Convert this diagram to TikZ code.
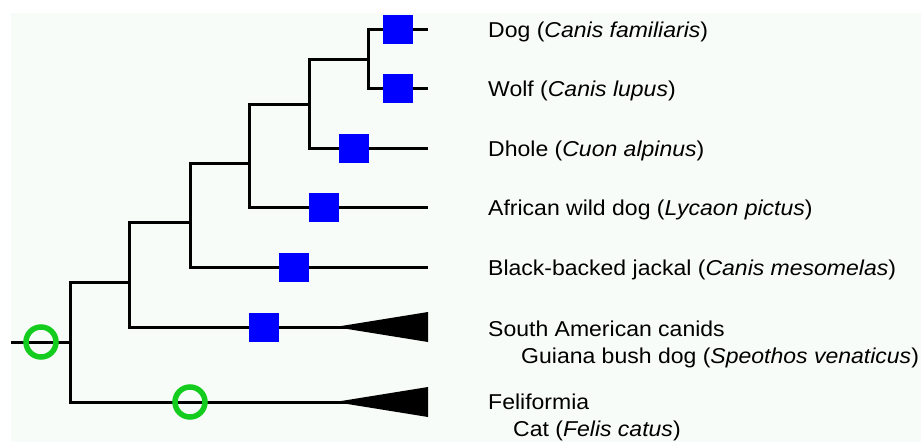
\documentclass[tikz,border=0pt]{standalone}
\usepackage{fontspec}
\setmainfont[FakeStretch=1.07]{Liberation Sans}
\definecolor{paper}{RGB}{248,252,248}
\definecolor{lossgreen}{RGB}{20,204,30}
\definecolor{gainblue}{RGB}{0,0,255}
\tikzset{
  branch/.style={line width=3pt, line join=miter},
  gain/.style={fill=gainblue, inner sep=0pt, minimum width=30pt, minimum height=29pt},
  loss/.style={circle, draw=lossgreen, line width=5.5pt, inner sep=0pt, minimum size=30pt},
  taxon/.style={anchor=base west, inner sep=0pt, font=\fontsize{21.5}{26}\selectfont}
}
\begin{document}
\begin{tikzpicture}[x=1pt,y=-1pt]
			\useasboundingbox (0,0) rectangle (921,442);
			\fill[paper] (11,13) rectangle (921,442);

			% Blaetter
			\coordinate (dog) at (428,29);
			\coordinate (wolf) at (428,88);
			\coordinate (dhole) at (428,148);
			\coordinate (lycaon) at (428,207);
			\coordinate (jackal) at (428,267);
			\coordinate (samer) at (428,327);
			\coordinate (felif) at (428,402);

			% Innere Knoten
			\coordinate (k1) at (368,59);
			\coordinate (k2) at (309,104);
			\coordinate (k3) at (249,163);
			\coordinate (k4) at (190,222);
			\coordinate (k5) at (129,282);
			\coordinate (k6) at (70,342);
			\coordinate (root) at (11,342);

			% Aeste
			\draw[branch] (dog) -| (k1) |- (wolf);
			\draw[branch] (k1) -| (k2) |- (dhole);
			\draw[branch] (k2) -| (k3) |- (lycaon);
			\draw[branch] (k3) -| (k4) |- (jackal);
			\draw[branch] (k4) -| (k5) |- (samer);
			\draw[branch] (k5) -| (k6) |- (felif);
			\draw[branch] (root) -- (k6);

			% Sammelgruppen
			\fill (samer) ++(-93,0) coordinate (samtip) -- ++(93,-15) -- ++(0,30) -- cycle;
			\fill (felif) ++(-93,0) coordinate (felitip) -- ++(93,-15) -- ++(0,30) -- cycle;

			% Quadrate
			\node[gain] (qdog) at (398,29) {};
			\node[gain] (qwolf) at (398,88) {};
			\node[gain] (qdhole) at (354,148) {};
			\node[gain] (qlycaon) at (324,207) {};
			\node[gain] (qjackal) at (294,267) {};
			\node[gain] (qsamer) at (264,327) {};

			% Kreise
			\node[loss] (croot) at (41,342) {};
			\node[loss] (cfelif) at (190,402) {};

			% Namen
			\node[taxon] (tdog) at (488,37) {Dog (\textit{Canis familiaris})};
			\node[taxon] (twolf) at (488,96) {Wolf (\textit{Canis lupus})};
			\node[taxon] (tdhole) at (488,156) {Dhole (\textit{Cuon alpinus})};
			\node[taxon] (tlycaon) at (488,215) {African wild dog (\textit{Lycaon pictus})};
			\node[taxon] (tjackal) at (488,275) {Black-backed jackal (\textit{Canis mesomelas})};
			\node[taxon] (tsamer) at (488,336) {South American canids};
			\node[taxon] (tbush) at (521,363) {Guiana bush dog (\textit{Speothos venaticus})};
			\node[taxon] (tfelif) at (488,409) {Feliformia};
			\node[taxon] (tcat) at (513,436) {Cat (\textit{Felis catus})};

		\end{tikzpicture}
\end{document}
